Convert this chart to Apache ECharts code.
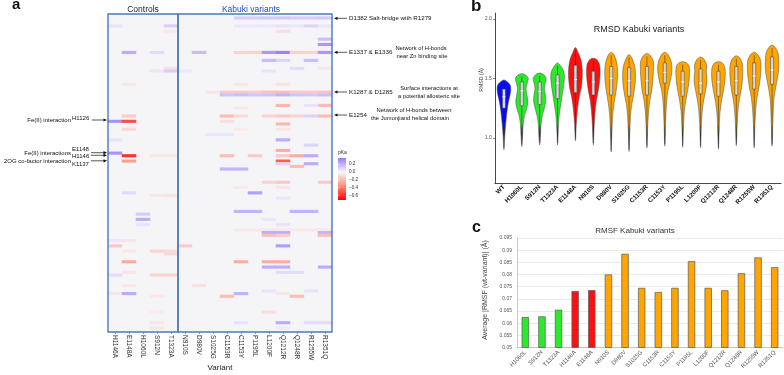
<!DOCTYPE html>
<html><head><meta charset="utf-8">
<script src="https://cdn.jsdelivr.net/npm/echarts@6/dist/echarts.min.js"></script>
<style>html,body{margin:0;padding:0;background:#fff}#c{width:784px;height:375px}</style>
</head><body><div id="c"></div>
<script>
const FONT = 'Liberation Sans, Arial, sans-serif';

// ---------- Panel a: pKa heatmap ----------
const heatVariants = ['H1146A','E1148A','H1060L','S912N','T1323A','N910S','D980V','S1025G','C1153R','C1153Y','P1195L','L1200F','Q1212R','Q1248R','R1255W','R1351Q'];
const controlCount = 5;
const heatRowCount = 120;
// [column, row, delta pKa]
const heatCells = [
 [9,1,.12],[10,1,.12],[11,1,.13],[12,1,.14],[13,1,.12],[14,1,.12],[15,1,.13],
 [0,4,.06],[4,4,.12],[9,4,.05],[10,4,.05],[11,4,.05],[12,4,.06],[13,4,.05],[14,4,.1],[15,4,.05],
 [12,6,-.08],[4,6,-.05],
 [15,9,.16],[15,11,.28],
 [1,14,.22],[3,14,.08],[6,14,.18],[9,14,-.12],[10,14,-.13],[11,14,.28],[12,14,.34],[13,14,-.13],[14,14,-.12],[15,14,.28],
 [11,17,.18],[12,17,.1],[14,17,.17],
 [4,20,-.08],[13,20,.08],[15,20,-.05],
 [3,21,.05],[4,21,.12],[11,21,.06],[5,21,.04],
 [1,26,-.05],[9,26,-.05],[12,26,-.07],
 [7,29,-.06],[8,29,-.15],[9,29,-.15],[10,29,-.14],[11,29,-.18],[12,29,-.2],[13,29,-.16],[14,29,-.15],[15,29,-.18],
 [8,30,.15],[9,30,.17],[10,30,.14],[11,30,.15],[12,30,.2],[13,30,.15],[14,30,.14],[15,30,.16],
 [12,34,-.22],[15,34,-.2],[14,34,.06],[9,35,-.05],
 [1,38,-.15],[8,38,-.2],[9,38,-.1],[11,38,-.12],[12,38,-.15],[13,38,-.12],[14,38,.1],[15,38,-.2],
 [0,40,.3],[1,40,-.52],[8,40,-.08],[12,41,-.22],
 [1,43,-.1],[12,43,-.06],[9,43,-.04],
 [7,45,.05],[8,45,.05],[0,47,.06],[12,47,.22],[14,49,.1],[12,51,-.25],
 [0,52,.3],
 [1,53,-.6],[3,53,-.05],[4,53,-.05],[8,53,-.2],[10,53,-.15],[12,53,-.15],[13,53,-.25],[14,53,.22],
 [1,55,-.3],[12,55,-.48],[12,56,.1],[14,56,.22],[13,57,-.2],[8,58,.2],[9,58,.2],
 [11,63,-.12],[12,63,-.15],[15,63,-.15],[9,65,-.05],[12,65,-.06],
 [1,67,.08],[10,67,.25],[3,68,-.06],[4,68,-.07],[12,69,.05],
 [9,74,.2],[10,74,.2],[13,74,.2],[14,74,.2],[2,75,.13],[2,77,.22],[11,77,.05],[2,79,.06],[12,79,.06],
 [9,81,-.05],[10,81,-.05],[11,81,-.05],[12,81,-.05],[13,81,-.05],[14,81,-.05],[15,81,-.05],
 [11,82,.22],[12,82,.22],[15,82,.2],[11,83,-.2],[12,83,-.15],[15,83,-.2],
 [0,85,.05],[1,85,-.06],[0,87,-.16],[5,87,-.15],[12,87,.26],
 [1,89,-.05],[3,89,-.12],[4,89,-.1],[4,90,-.1],
 [1,93,-.26],[9,93,-.25],[11,93,-.25],[12,93,-.25],[11,95,.22],[12,95,.22],[15,95,.22],
 [1,97,-.06],[12,97,.08],[13,97,.08],[0,98,.08],[3,98,-.12],[4,98,-.12],
 [1,102,-.05],[6,102,-.08],[11,104,.06],[14,104,.06],
 [0,105,-.06],[1,105,.22],[9,105,.2],[12,105,-.06],[3,106,-.05],[8,106,-.2],[13,106,-.2],
 [11,112,-.08],[3,112,-.04],
 [3,116,-.06],[9,116,.06],[12,116,.22],[14,116,.08],[15,116,.08],[3,118,-.06],[12,118,.04]
];
const pkaMin = -0.72, pkaMax = 0.36;
const pkaColors = ['#ff0000','#ff8e7c','#f7f7fa','#9a7aff'];
const pkaTicks = [0.2, 0.0, -0.2, -0.4, -0.6];

// ---------- Panel b: RMSD violins ----------
const violinNames = ['WT','H1060L','S912N','T1323A','E1148A','N910S','D980V','S1025G','C1153R','C1153Y','P1195L','L1200F','Q1212R','Q1248R','R1255W','R1351Q'];
const violinGroups = ['wt','control','control','control','hotspot','hotspot','kabuki','kabuki','kabuki','kabuki','kabuki','kabuki','kabuki','kabuki','kabuki','kabuki'];
const violinQ1 =     [1.25,1.27,1.28,1.33,1.38,1.36,1.36,1.35,1.36,1.46,1.35,1.37,1.35,1.36,1.41,1.45];
const violinMedian = [1.345,1.395,1.39,1.46,1.49,1.47,1.50,1.48,1.48,1.55,1.47,1.46,1.47,1.48,1.52,1.57];
const violinQ3 =     [1.41,1.47,1.47,1.53,1.61,1.56,1.60,1.59,1.60,1.63,1.56,1.58,1.56,1.60,1.63,1.68];
// [RMSD value, half width as fraction of category band]
const violinProfiles = [
 [[1.487,0],[1.47,0.2],[1.44,0.36],[1.40,0.38],[1.36,0.34],[1.30,0.25],[1.22,0.17],[1.12,0.1],[1.02,0.05],[0.90,0]],
 [[1.54,0],[1.53,0.2],[1.50,0.36],[1.46,0.3],[1.41,0.24],[1.35,0.3],[1.30,0.34],[1.25,0.28],[1.18,0.14],[1.10,0.07],[1.0,0.04],[0.925,0]],
 [[1.545,0],[1.535,0.2],[1.50,0.36],[1.45,0.3],[1.41,0.26],[1.36,0.32],[1.31,0.34],[1.25,0.26],[1.18,0.14],[1.10,0.07],[1.0,0.04],[0.94,0]],
 [[1.63,0],[1.60,0.2],[1.55,0.36],[1.50,0.38],[1.44,0.34],[1.38,0.28],[1.30,0.2],[1.20,0.1],[1.10,0.05],[0.94,0]],
 [[1.76,0],[1.72,0.14],[1.66,0.3],[1.58,0.38],[1.50,0.38],[1.42,0.32],[1.35,0.22],[1.25,0.12],[1.12,0.05],[0.975,0]],
 [[1.67,0],[1.66,0.18],[1.62,0.34],[1.55,0.38],[1.48,0.35],[1.40,0.28],[1.32,0.18],[1.22,0.1],[1.10,0.05],[0.94,0]],
 [[1.72,0],[1.70,0.15],[1.64,0.3],[1.56,0.36],[1.48,0.34],[1.40,0.28],[1.30,0.17],[1.20,0.09],[1.05,0.04],[0.88,0]],
 [[1.70,0],[1.67,0.16],[1.60,0.32],[1.52,0.36],[1.44,0.33],[1.36,0.25],[1.28,0.15],[1.18,0.08],[1.05,0.04],[0.885,0]],
 [[1.71,0],[1.69,0.2],[1.64,0.36],[1.56,0.36],[1.48,0.33],[1.40,0.27],[1.32,0.17],[1.22,0.09],[1.08,0.04],[0.915,0]],
 [[1.72,0],[1.70,0.18],[1.64,0.36],[1.58,0.40],[1.52,0.36],[1.46,0.28],[1.40,0.18],[1.30,0.1],[1.15,0.05],[0.93,0]],
 [[1.64,0],[1.63,0.22],[1.60,0.36],[1.54,0.38],[1.47,0.35],[1.40,0.28],[1.32,0.18],[1.22,0.09],[1.08,0.04],[0.92,0]],
 [[1.68,0],[1.66,0.2],[1.61,0.34],[1.56,0.32],[1.50,0.36],[1.44,0.33],[1.36,0.23],[1.26,0.12],[1.12,0.05],[0.915,0]],
 [[1.64,0],[1.63,0.22],[1.59,0.36],[1.52,0.38],[1.45,0.34],[1.38,0.26],[1.30,0.16],[1.20,0.08],[1.06,0.04],[0.905,0]],
 [[1.69,0],[1.67,0.2],[1.62,0.34],[1.55,0.36],[1.48,0.34],[1.40,0.27],[1.32,0.17],[1.22,0.09],[1.08,0.04],[0.935,0]],
 [[1.72,0],[1.70,0.2],[1.65,0.36],[1.58,0.38],[1.50,0.34],[1.42,0.26],[1.34,0.16],[1.24,0.09],[1.10,0.04],[0.915,0]],
 [[1.78,0],[1.76,0.18],[1.71,0.34],[1.64,0.38],[1.57,0.37],[1.50,0.3],[1.42,0.2],[1.32,0.1],[1.15,0.05],[0.93,0]]
];
const rmsdTicks = [1.0, 1.5, 2.0];

// ---------- Panel c: RMSF bars ----------
const rmsfNames = ['H1060L','S912N','T1323A','H1146A','E1148A','N910S','D980V','S1025G','C1153R','C1153Y','P1195L','L1200F','Q1212R','Q1248R','R1255W','R1351Q'];
const rmsfGroups = ['control','control','control','hotspot','hotspot','kabuki','kabuki','kabuki','kabuki','kabuki','kabuki','kabuki','kabuki','kabuki','kabuki','kabuki'];
const rmsfValues = [0.0625,0.0628,0.0655,0.0732,0.0736,0.0800,0.0885,0.0745,0.0728,0.0745,0.0855,0.0745,0.0735,0.0805,0.0870,0.0830];

const groupColor = { wt:'#0a0aff', control:'#2bea2b', hotspot:'#ff1010', kabuki:'#ffa500' };

// ---------- layout ----------
const gA1 = {left:108, top:14, width:70, height:318};
const gA2 = {left:178, top:14, width:154, height:318};
const gB  = {left:495, top:13, width:286, height:170};
const gC  = {left:517, top:238, width:266, height:109.5};

const chart = echarts.init(document.getElementById('c'), null, {renderer:'canvas'});

const rowCats = Array.from({length: heatRowCount}, (_, i) => String(i));
const ctrlData = heatCells.filter(c => c[0] < controlCount).map(c => [c[0], c[1], c[2]]);
const kabData = heatCells.filter(c => c[0] >= controlCount).map(c => [c[0] - controlCount, c[1], c[2]]);

function heatX(gi, names) {
  return {type:'category', gridIndex:gi, data:names, axisLine:{show:false},
    axisTick:{show:true, alignWithLabel:true, length:2, lineStyle:{color:'#555', width:0.6}},
    axisLabel:{rotate:-90, fontSize:6.5, color:'#333', margin:3, fontFamily:FONT}, splitLine:{show:false}};
}
function heatY(gi) {
  return {type:'category', gridIndex:gi, data:rowCats, inverse:true, show:false};
}

function text(x, y, s, o, rot) {
  const g = {type:'text', x:x, y:y, z:100, style:Object.assign({text:s, fontFamily:FONT, fontSize:6.2, fill:'#111', align:'left', verticalAlign:'middle'}, o || {})};
  if (rot) g.rotation = rot;
  return g;
}
function arrow(xFrom, xTo, y) {
  const dir = xTo > xFrom ? 1 : -1;
  return [
    {type:'line', z:100, shape:{x1:xFrom, y1:y, x2:xTo - dir*3, y2:y}, style:{stroke:'#111', lineWidth:0.7}},
    {type:'polygon', z:100, shape:{points:[[xTo, y],[xTo - dir*3.5, y-1.6],[xTo - dir*3.5, y+1.6]]}, style:{fill:'#111'}}
  ];
}

const graphics = [];
// panel letters
graphics.push(text(12, 5, 'a', {fontSize:15, fontWeight:'bold'}));
graphics.push(text(471, 6.8, 'b', {fontSize:17, fontWeight:'bold'}));
graphics.push(text(472, 227.8, 'c', {fontSize:16, fontWeight:'bold'}));
// heatmap headers
graphics.push(text(gA1.left + gA1.width/2, 9.5, 'Controls', {fontSize:8.5, align:'center', fill:'#222'}));
graphics.push(text(251, 9.5, 'Kabuki variants', {fontSize:8.5, align:'center', fill:'#2247d0'}));
graphics.push(text(220, 368, 'Variant', {fontSize:8, align:'center', fill:'#222'}));
// heatmap borders
[gA1, gA2].forEach(g => graphics.push({type:'rect', z:90, shape:{x:g.left, y:g.top, width:g.width, height:g.height},
  style:{fill:null, stroke:'#4a7ab8', lineWidth:1.4}}));
// left annotations
graphics.push(text(71, 120, 'Fe(II) interaction', {fontSize:6, align:'right'}));
graphics.push(text(72, 118.5, 'H1126', {fontSize:6}));
graphics.push(...arrow(92, 107, 120));
graphics.push(text(72, 149.5, 'E1148', {fontSize:6}));
graphics.push(text(71, 153, 'Fe(II) interactions', {fontSize:6, align:'right'}));
graphics.push(text(72, 156.5, 'H1146', {fontSize:6}));
graphics.push(text(71, 161.5, '2OG co-factor interaction', {fontSize:6, align:'right'}));
graphics.push(text(72, 164, 'K1137', {fontSize:6}));
graphics.push(...arrow(91, 107, 152.7));
graphics.push(...arrow(91, 107, 155.3));
graphics.push(...arrow(91, 107, 160.8));
// right annotations
graphics.push(...arrow(347, 334, 18.3));
graphics.push(text(349, 18.3, 'D1382 Salt-bridge with R1279'));
graphics.push(...arrow(347, 334, 52.3));
graphics.push(text(349, 52.5, 'E1337 & E1336'));
graphics.push(text(421, 48.3, 'Network of H-bonds', {fontSize:5.8, align:'center'}));
graphics.push(text(422, 56.7, 'near Zn binding site', {fontSize:5.8, align:'center'}));
graphics.push(...arrow(347, 334, 92));
graphics.push(text(349, 92.3, 'K1287 & D1285'));
graphics.push(text(429, 88.3, 'Surface interactions at', {fontSize:5.8, align:'center'}));
graphics.push(text(429, 96.7, 'a potential allosteric site', {fontSize:5.8, align:'center'}));
graphics.push(...arrow(347, 334, 115));
graphics.push(text(349, 115, 'E1254'));
graphics.push(text(414, 110, 'Network of H-bonds between', {fontSize:5.8, align:'center'}));
graphics.push(text(410, 118.7, 'the Jumonjiand helical domain', {fontSize:5.8, align:'center'}));
// pKa legend
const legX = 338, legY = 158, legW = 8, legH = 42;
graphics.push(text(338, 153, 'pKa', {fontSize:5, fill:'#333'}));
graphics.push({type:'rect', z:100, shape:{x:legX, y:legY, width:legW, height:legH},
  style:{fill:new echarts.graphic.LinearGradient(0,0,0,1, pkaColors.slice().reverse().map((c,i,a)=>({offset:i/(a.length-1), color:c})))}});
pkaTicks.forEach(v => {
  const y = legY + (pkaMax - v) / (pkaMax - pkaMin) * legH;
  graphics.push({type:'line', z:100, shape:{x1:legX, y1:y, x2:legX+1.5, y2:y}, style:{stroke:'#fff', lineWidth:0.5}});
  graphics.push(text(legX + legW + 3, y, (v < 0 ? '\u2212' : '') + Math.abs(v).toFixed(1), {fontSize:4.6, fill:'#333'}));
});
// titles / axis names for b & c
graphics.push(text(639, 30, 'RMSD Kabuki variants', {fontSize:9, align:'center', fill:'#222'}));
graphics.push(text(482, 80, 'RMSD (\u00c5)', {fontSize:5.2, align:'center', fill:'#333'}, Math.PI/2));
graphics.push(text(635, 230.5, 'RMSF Kabuki variants', {fontSize:8, align:'center', fill:'#333'}));
graphics.push(text(485, 290, 'Average |RMSF (wt-variant)| (\u00c5)', {fontSize:7, align:'center', fill:'#444'}, Math.PI/2));

function violinRender(params, api) {
  const i = params.dataIndex;
  const cx = api.coord([i, 1])[0];
  const band = api.size([1, 0])[0];
  const prof = violinProfiles[i];
  const yOf = v => api.coord([i, v])[1];
  const right = prof.map(([v, w]) => [cx + w * band, yOf(v)]);
  const left = prof.slice(1, -1).reverse().map(([v, w]) => [cx - w * band, yOf(v)]);
  const pts = right.concat(left);
  const yTop = yOf(prof[0][0]), yBot = yOf(prof[prof.length - 1][0]);
  const col = groupColor[violinGroups[i]];
  const off = Math.min(0.9, Math.max(0.3, (yOf(1.12) - yTop) / (yBot - yTop)));
  const grad = new echarts.graphic.LinearGradient(0, 0, 0, 1, [
    {offset:0, color:col}, {offset:off, color:col}, {offset:Math.min(0.97, off + 0.13), color:'#333333'}, {offset:1, color:'#a8a8a8'}]);
  const bw = band * 0.085;
  const yq1 = yOf(violinQ1[i]), yq3 = yOf(violinQ3[i]), ym = yOf(violinMedian[i]);
  return {type:'group', children:[
    {type:'polygon', shape:{points:pts, smooth:0.3}, style:{fill:grad, stroke:'#4a4a4a', lineWidth:0.5}},
    {type:'line', shape:{x1:cx, y1:yTop + 3, x2:cx, y2:yq3}, style:{stroke:'#222', lineWidth:0.5}},
    {type:'line', shape:{x1:cx, y1:yq1, x2:cx, y2:yBot - 2}, style:{stroke:'#222', lineWidth:0.5}},
    {type:'rect', shape:{x:cx - bw, y:yq3, width:bw * 2, height:yq1 - yq3}, style:{fill:'#d8d8d8', stroke:'#3a3a3a', lineWidth:0.5}},
    {type:'line', shape:{x1:cx - bw, y1:ym, x2:cx + bw, y2:ym}, style:{stroke:'#fff', lineWidth:0.9}}
  ]};
}

const option = {
  animation:false,
  backgroundColor:'#ffffff',
  textStyle:{fontFamily:FONT},
  grid:[
    Object.assign({show:true, backgroundColor:'#f5f5f8', borderWidth:0}, gA1),
    Object.assign({show:true, backgroundColor:'#f5f5f8', borderWidth:0}, gA2),
    gB, gC
  ],
  xAxis:[
    heatX(0, heatVariants.slice(0, controlCount)),
    heatX(1, heatVariants.slice(controlCount)),
    {type:'category', gridIndex:2, data:violinNames,
      axisLine:{lineStyle:{color:'#333', width:0.9}},
      axisTick:{alignWithLabel:true, length:2, lineStyle:{color:'#333', width:0.6}},
      axisLabel:{rotate:45, fontSize:6.3, fontWeight:'bold', color:'#111', margin:3, fontFamily:FONT}},
    {type:'category', gridIndex:3, data:rmsfNames,
      axisLine:{lineStyle:{color:'#bbb', width:0.8}}, axisTick:{show:false},
      axisLabel:{rotate:45, fontSize:5.8, color:'#555', margin:4, fontFamily:FONT}}
  ],
  yAxis:[
    heatY(0), heatY(1),
    {type:'value', gridIndex:2, min:0.62, max:2.05, splitLine:{show:false},
      axisLine:{show:true, lineStyle:{color:'#333', width:0.9}},
      axisTick:{show:true, length:2, customValues:rmsdTicks, lineStyle:{color:'#333', width:0.6}},
      axisLabel:{fontSize:5.2, color:'#555', margin:3, customValues:rmsdTicks, formatter:v => Number(v).toFixed(1), fontFamily:FONT}},
    {type:'value', gridIndex:3, min:0.05, max:0.095, interval:0.005,
      splitLine:{show:true, lineStyle:{color:'#dcdcdc', width:0.6}},
      axisLine:{show:true, lineStyle:{color:'#bbb', width:0.8}}, axisTick:{show:false},
      axisLabel:{fontSize:5, color:'#555', margin:5, formatter:v => String(parseFloat(Number(v).toFixed(3))), fontFamily:FONT}}
  ],
  visualMap:{type:'continuous', show:false, min:pkaMin, max:pkaMax, dimension:2, seriesIndex:[0,1], inRange:{color:pkaColors}},
  series:[
    {type:'heatmap', xAxisIndex:0, yAxisIndex:0, data:ctrlData, itemStyle:{borderWidth:0}},
    {type:'heatmap', xAxisIndex:1, yAxisIndex:1, data:kabData, itemStyle:{borderWidth:0}},
    {type:'custom', xAxisIndex:2, yAxisIndex:2, data:violinNames.map((n, i) => [i, violinMedian[i]]),
      encode:{x:0, y:1}, renderItem:violinRender, clip:false},
    {type:'bar', xAxisIndex:3, yAxisIndex:3, barWidth:'44%',
      data:rmsfValues.map((v, i) => ({value:v, itemStyle:{color:groupColor[rmsfGroups[i]]}})),
      itemStyle:{borderColor:'#5a5a5a', borderWidth:0.7}}
  ],
  graphic:graphics
};
chart.setOption(option);
</script>
</body></html>
